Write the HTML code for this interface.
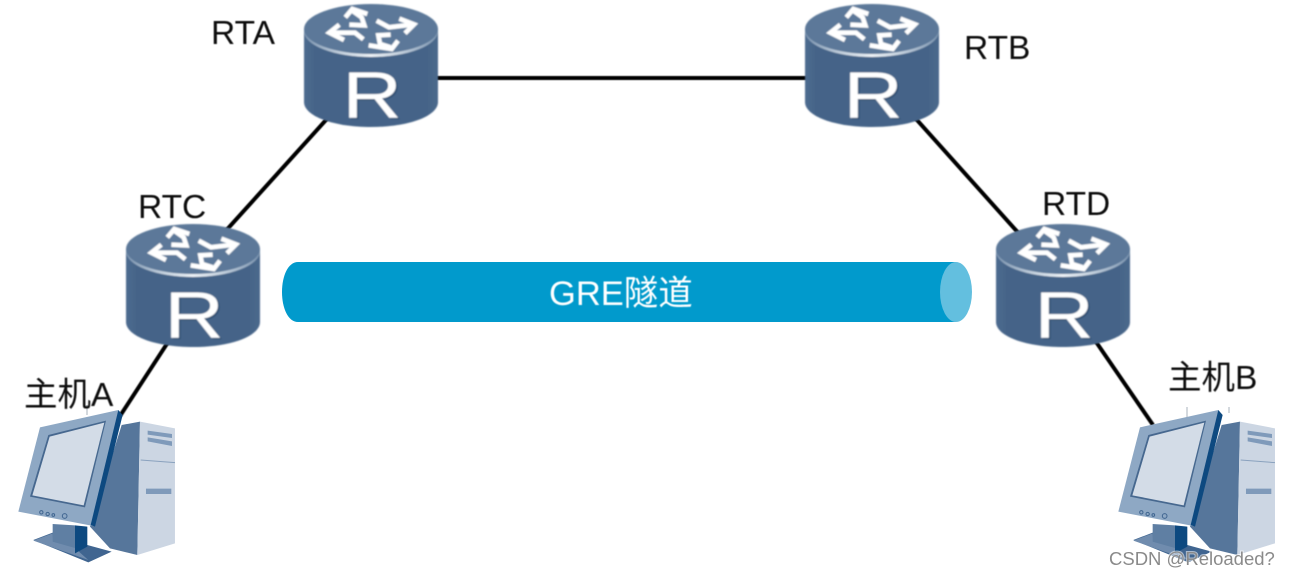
<!DOCTYPE html>
<html>
<head>
<meta charset="utf-8">
<style>
html,body{margin:0;padding:0;background:#fff;}
svg{display:block;}
text{font-family:"Liberation Sans","Noto Sans CJK SC",sans-serif;}
</style>
</head>
<body>
<svg width="1290" height="575" viewBox="0 0 1290 575" xmlns="http://www.w3.org/2000/svg">
<defs>
<filter id="b" x="-5%" y="-5%" width="110%" height="110%"><feGaussianBlur stdDeviation="0.8"/></filter>
<filter id="t" x="-5%" y="-10%" width="110%" height="120%"><feGaussianBlur stdDeviation="0.45"/></filter>
<linearGradient id="body" x1="0" x2="1" y1="0" y2="0">
<stop offset="0" stop-color="#4d6b90"/><stop offset="0.08" stop-color="#456488"/><stop offset="0.92" stop-color="#456488"/><stop offset="1" stop-color="#4b698c"/>
</linearGradient>
<linearGradient id="rim" x1="0" x2="1" y1="0" y2="0">
<stop offset="0" stop-color="#7d96b1"/><stop offset="0.3" stop-color="#c9d5e1"/><stop offset="0.5" stop-color="#eef2f6"/><stop offset="0.7" stop-color="#c9d5e1"/><stop offset="1" stop-color="#7d96b1"/>
</linearGradient>
<g id="router" filter="url(#b)">
<path d="M-67,26 V98 C-67,112 -38,123 0,123 C38,123 67,112 67,98 V26 Z" fill="url(#body)"/>
<ellipse cx="0" cy="27" rx="67" ry="26" fill="url(#rim)"/>
<ellipse cx="0" cy="25" rx="67" ry="25" fill="#5b7899"/>
<g transform="translate(-51,0) scale(0.3333)" fill="none" stroke="#fff" stroke-width="14" stroke-linejoin="miter">
<path d="M76,40 L97,15 L142,30"/><path d="M97,20 L125,40 L133,64 L88,62"/>
<path d="M238,44 L282,61 L255,88"/><path d="M274,62 L207,70 L170,50"/>
<path d="M58,62 L28,86 L72,108"/><path d="M38,86 L105,86 L130,106"/>
<path d="M146,124 L215,135 L234,110"/><path d="M212,130 L180,120 L175,94 L212,92"/>
</g>
<text transform="translate(-28.6,114) scale(1.25,1)" x="1.5" y="1.5" font-size="66" fill="#2c4a6e" opacity="0.7">R</text>
<text transform="translate(-28.6,114) scale(1.25,1)" x="0" y="0" font-size="66" fill="#fff">R</text>
</g>
<g id="pc" filter="url(#b)" transform="scale(0.3333)">
<path d="M262,135 V108 M290,135 V108" stroke="#a9b4bf" stroke-width="3" fill="none" opacity="0"/>
<path d="M365,165 L420,155 L412,555 L330,535 L270,470 Z" fill="#56769b"/>
<path d="M420,155 L525,175 L525,520 L412,555 Z" fill="#ccd6e3"/>
<path d="M422,270 L525,278" stroke="#8aa2be" stroke-width="3" fill="none"/>
<path d="M443,182 L516,192 L516,204 L443,194 Z M443,202 L516,214 L516,228 L443,214 Z" fill="#7f9aba"/>
<path d="M438,356 L514,356 L514,372 L438,372 Z" fill="#7f9aba"/>
<path d="M100,510 L158,488 L262,525 L335,545 L265,577 Z" fill="#3f6590"/>
<path d="M100,512 L158,490 L160,515 L225,532 L240,548 L265,570 Z" fill="#6f8cae"/>
<path d="M158,462 L225,466 L225,534 L158,515 Z" fill="#5f7fa3"/>
<path d="M225,466 L262,470 L262,530 L225,550 Z" fill="#0f4a80"/>
<path d="M120,172 L355,120 L362,135 L280,468 L55,425 Z" fill="#8ea8c4"/>
<path d="M355,120 L368,135 L285,470 L272,465 Z" fill="#0f4a80"/>
<path d="M145,195 L318,152 L255,412 L90,380 Z" fill="#46688f"/>
<path d="M149,200 L313,158 L251,406 L97,376 Z" fill="#d3dce7"/>
<circle cx="124" cy="427" r="5" fill="none" stroke="#3f6590" stroke-width="3"/>
<circle cx="143" cy="432" r="5" fill="none" stroke="#3f6590" stroke-width="3"/>
<circle cx="160" cy="435" r="4" fill="none" stroke="#3f6590" stroke-width="3"/>
<circle cx="194" cy="438" r="7" fill="none" stroke="#3f6590" stroke-width="3"/>
</g>
</defs>

<rect width="1290" height="575" fill="#fff"/>

<g stroke="#000" stroke-width="4" fill="none" filter="url(#t)">
<line x1="430" y1="78" x2="815" y2="78"/>
<line x1="335" y1="110" x2="222" y2="235"/>
<line x1="908" y1="110" x2="1022" y2="237"/>
<line x1="172" y1="336" x2="120" y2="416"/>
<line x1="1092" y1="336" x2="1153" y2="425"/>
</g>

<use href="#router" x="371" y="4"/>
<use href="#router" x="872" y="4"/>
<use href="#router" x="193" y="224"/>
<use href="#router" x="1063" y="224"/>

<path d="M298,262 H956 V322 H298 C288,322 282,308 282,292 C282,276 288,262 298,262 Z" fill="#019acc"/>
<ellipse cx="956" cy="292" rx="16" ry="30" fill="#63bfdf"/>
<text x="549" y="305" font-size="34.5" fill="#fff" filter="url(#t)">GRE隧道</text>

<path d="M87,405 V415 M1187,407 V417 M1229,407 V413" stroke="#aab3bc" stroke-width="1" fill="none"/>
<g transform="translate(0,370)"><use href="#pc"/></g>
<g transform="translate(1100,370)"><use href="#pc"/></g>

<g font-size="33.5" fill="#111" filter="url(#t)">
<text x="211" y="44">RTA</text>
<text x="964" y="59">RTB</text>
<text x="138" y="218">RTC</text>
<text x="1042" y="215">RTD</text>
<text x="24" y="406">主机A</text>
<text x="1168" y="389">主机B</text>
</g>

<text x="1109" y="565" font-size="18.5" fill="#8a8a8a" stroke="#fff" stroke-width="2" paint-order="stroke" stroke-opacity="0.55">CSDN @Reloaded?</text>
</svg>
</body>
</html>
